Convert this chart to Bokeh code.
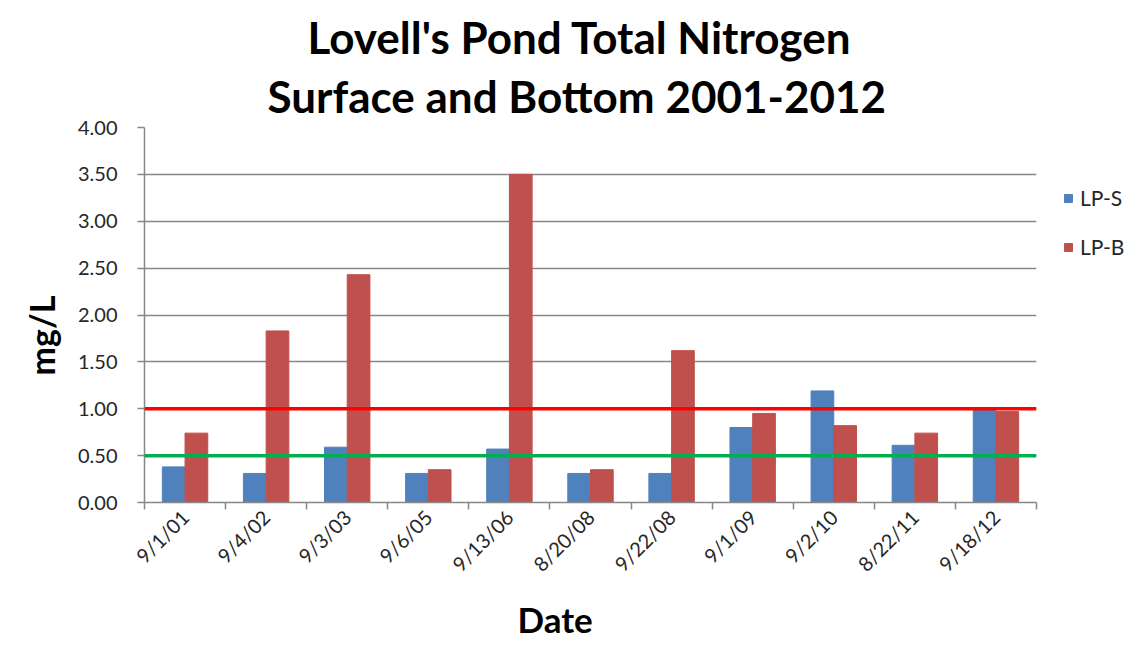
import numpy as np
from bokeh.plotting import figure
from bokeh.models import (ColumnDataSource, FixedTicker, Range1d, Span, Legend,
                          LegendItem, Title, NumeralTickFormatter)
from bokeh.transform import dodge
from bokeh.embed import file_html
from bokeh.resources import INLINE

dates = ["9/1/01", "9/4/02", "9/3/03", "9/6/05", "9/13/06", "8/20/08",
         "9/22/08", "9/1/09", "9/2/10", "8/22/11", "9/18/12"]
lp_s = [0.38, 0.31, 0.59, 0.31, 0.57, 0.31, 0.31, 0.80, 1.19, 0.61, 1.01]
lp_b = [0.74, 1.83, 2.43, 0.35, 3.50, 0.35, 1.62, 0.95, 0.82, 0.74, 0.97]
threshold_high = 1.0
threshold_low = 0.5
y_ticks = [0.0, 0.5, 1.0, 1.5, 2.0, 2.5, 3.0, 3.5, 4.0]

FONT = "Lato"
GRID = "#878787"
TXT = "#262626"

n = len(dates)
idx = list(range(n))
src = ColumnDataSource(dict(x=idx, s=lp_s, b=lp_b))

p = figure(frame_width=892, frame_height=375, output_backend="svg", toolbar_location=None,
           x_range=Range1d(-0.5, n - 0.5), y_range=Range1d(0, 4),
           min_border_left=144, min_border_right=94, min_border_top=127,
           min_border_bottom=140)
p.outline_line_color = None
p.background_fill_color = "white"
p.border_fill_color = "white"

rs = p.vbar(x=dodge("x", -0.14, range=p.x_range), top="s", width=0.28, source=src,
            fill_color="#4F81BD", line_color="#4F81BD")
rb = p.vbar(x=dodge("x", 0.14, range=p.x_range), top="b", width=0.28, source=src,
            fill_color="#C0504D", line_color="#C0504D")

p.add_layout(Span(location=threshold_high, dimension="width", line_color="#FF0000", line_width=3.5))
p.add_layout(Span(location=threshold_low, dimension="width", line_color="#00B050", line_width=3.5))

# x axis
p.xaxis.ticker = FixedTicker(ticks=idx, minor_ticks=[i - 0.5 for i in range(n + 1)])
p.xaxis.major_label_overrides = {i: d for i, d in zip(idx, dates)}
p.xaxis.major_label_orientation = np.pi / 4
p.xaxis.major_tick_out = 0
p.xaxis.major_tick_in = 0
p.xaxis.minor_tick_out = 7
p.xaxis.minor_tick_in = 0
p.xaxis.minor_tick_line_color = GRID
p.xaxis.minor_tick_line_width = 1.5
p.xaxis.axis_line_color = GRID
p.xaxis.axis_line_width = 1.5
p.xaxis.major_label_text_font = FONT
p.xaxis.major_label_text_font_size = "20px"
p.xaxis.major_label_text_color = TXT
p.xaxis.major_label_standoff = 4
p.xgrid.grid_line_color = None

# y axis
p.yaxis.ticker = FixedTicker(ticks=y_ticks)
p.yaxis.formatter = NumeralTickFormatter(format="0.00")
p.yaxis.major_tick_out = 7
p.yaxis.major_tick_in = 0
p.yaxis.minor_tick_line_color = None
p.yaxis.major_tick_line_color = GRID
p.yaxis.major_tick_line_width = 1.5
p.yaxis.axis_line_color = GRID
p.yaxis.axis_line_width = 1.5
p.yaxis.major_label_text_font = FONT
p.yaxis.major_label_text_font_size = "20px"
p.yaxis.major_label_text_color = TXT
p.yaxis.major_label_standoff = 20
p.ygrid.grid_line_color = GRID
p.ygrid.grid_line_width = 1.5

# axis titles
ylab = Title(text="mg/L", align="left", offset=127, text_font=FONT, text_font_size="34px",
             text_font_style="bold", text_color="black", standoff=25)
p.add_layout(ylab, "left")
xlab = Title(text="Date", align="left", offset=373, text_font=FONT, text_font_size="35px",
             text_font_style="bold", text_color="black", standoff=16)
p.add_layout(xlab, "below")

# titles
t2 = Title(text="Surface and Bottom 2001-2012", align="left", offset=123,
           text_font=FONT, text_font_size="44px", text_font_style="bold", text_color="black",
           standoff=11)
t1 = Title(text="Lovell's Pond Total Nitrogen", align="left", offset=163,
           text_font=FONT, text_font_size="44px", text_font_style="bold", text_color="black",
           standoff=0)
p.add_layout(t2, "above")
p.add_layout(t1, "above")

legend = Legend(items=[LegendItem(label="LP-S", renderers=[rs]),
                       LegendItem(label="LP-B", renderers=[rb])],
                location=(27, 243), orientation="vertical",
                border_line_color=None, background_fill_alpha=0,
                padding=0, margin=0, glyph_width=10, glyph_height=10,
                label_standoff=7, spacing=24, label_height=20,
                label_text_font=FONT, label_text_font_size="21px", label_text_color=TXT)
p.add_layout(legend, "right")

open("out.html", "w").write(file_html(p, INLINE))
